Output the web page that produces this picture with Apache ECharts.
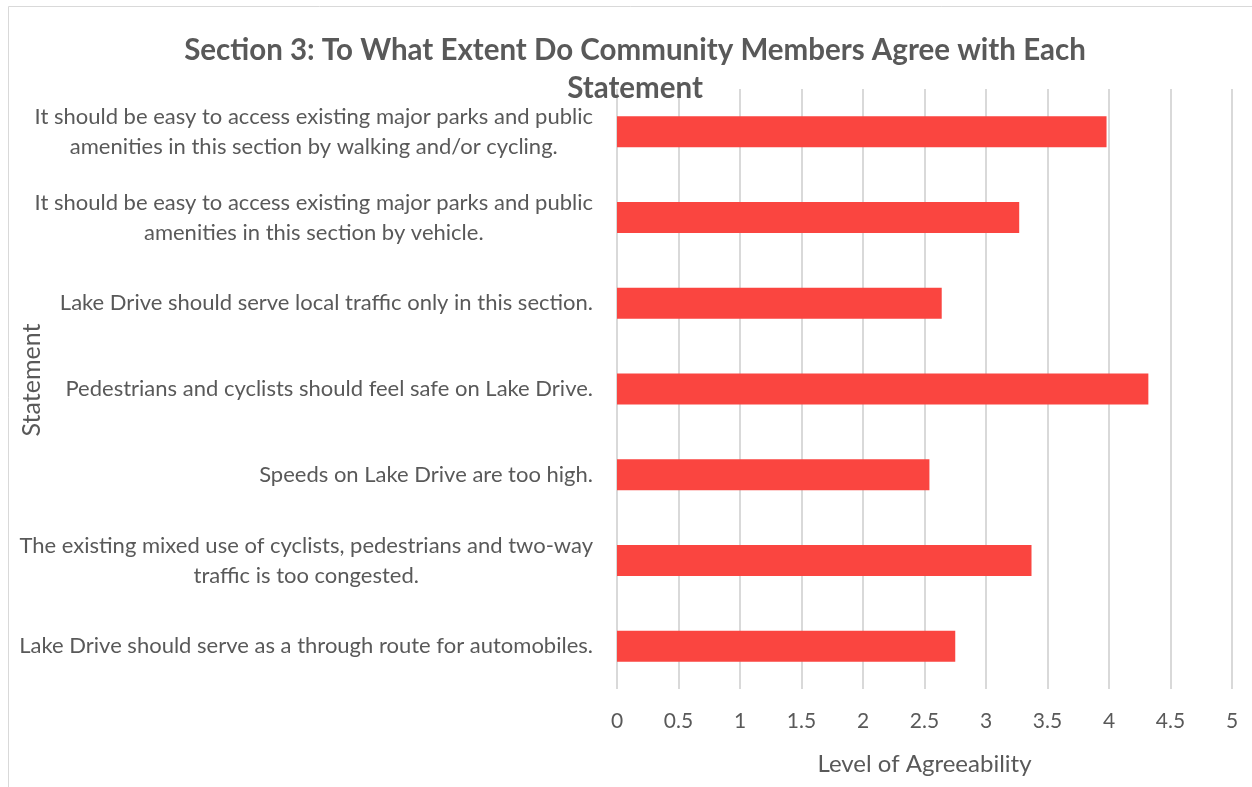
<!DOCTYPE html>
<html>
<head>
<meta charset="utf-8">
<script src="https://cdn.jsdelivr.net/npm/echarts@6/dist/echarts.min.js"></script>
<style>html,body{margin:0;padding:0;background:#fff;}#c{width:1252px;height:787px;}</style>
</head>
<body>
<div id="c"></div>
<script>
const categories = [
  "It should be easy to access existing major parks and public\namenities in this section by walking and/or cycling.",
  "It should be easy to access existing major parks and public\namenities in this section by vehicle.",
  "Lake Drive should serve local traffic only in this section.",
  "Pedestrians and cyclists should feel safe on Lake Drive.",
  "Speeds on Lake Drive are too high.",
  "The existing mixed use of cyclists, pedestrians and two-way\ntraffic is too congested.",
  "Lake Drive should serve as a through route for automobiles."
];
const values = [3.98, 3.27, 2.64, 4.32, 2.54, 3.37, 2.75];
const titleText = "Section 3: To What Extent Do Community Members Agree with Each\nStatement";
const xAxisName = "Level of Agreeability";
const yAxisName = "Statement";

const chart = echarts.init(document.getElementById('c'), null, {renderer: 'canvas'});
const FONT = 'Lato';
chart.setOption({
  backgroundColor: '#fff',
  animation: false,
  title: {
    text: titleText,
    left: 630, textAlign: 'center', top: 26,
    textStyle: {fontFamily: FONT, fontWeight: 'bold', fontSize: 29.5, color: '#595959', lineHeight: 38}
  },
  graphic: [{
    type: 'rect', shape: {x: 8.5, y: 6.5, width: 1300, height: 900},
    style: {fill: 'none', stroke: '#D9D9D9', lineWidth: 1}, silent: true
  }],
  grid: {left: 617, right: 20, top: 89, bottom: 98, containLabel: false, outerBoundsMode: 'none'},
  xAxis: {
    type: 'value', min: 0, max: 5, interval: 0.5,
    name: xAxisName, nameLocation: 'middle', nameGap: 63, nameMoveOverlap: false,
    nameTextStyle: {fontFamily: FONT, fontSize: 24, color: '#595959'},
    axisLine: {show: false}, axisTick: {show: false},
    axisLabel: {fontFamily: FONT, fontSize: 21, color: '#595959', margin: 22},
    splitLine: {lineStyle: {color: '#D9D9D9', width: 2}}
  },
  yAxis: {
    type: 'category', data: categories, inverse: true,
    name: yAxisName, nameLocation: 'middle', nameGap: 573, nameRotate: 90, nameMoveOverlap: false,
    nameTextStyle: {fontFamily: FONT, fontSize: 25, color: '#595959', padding: [0, 0, 0, 18]},
    axisLine: {show: false}, axisTick: {show: false},
    axisLabel: {
      fontFamily: FONT, fontSize: 22, color: '#595959', margin: 24, lineHeight: 30, align: 'right',
      formatter: function (v) { return v.split('\n').map(function (s) { return '{c|' + s + '}'; }).join('\n'); },
      rich: {c: {align: 'center', fontFamily: FONT, fontSize: 22, color: '#595959', lineHeight: 30}}
    }
  },
  series: [{
    type: 'bar', data: values, barWidth: 31,
    itemStyle: {color: '#FA4540'}
  }]
});
</script>
</body>
</html>
